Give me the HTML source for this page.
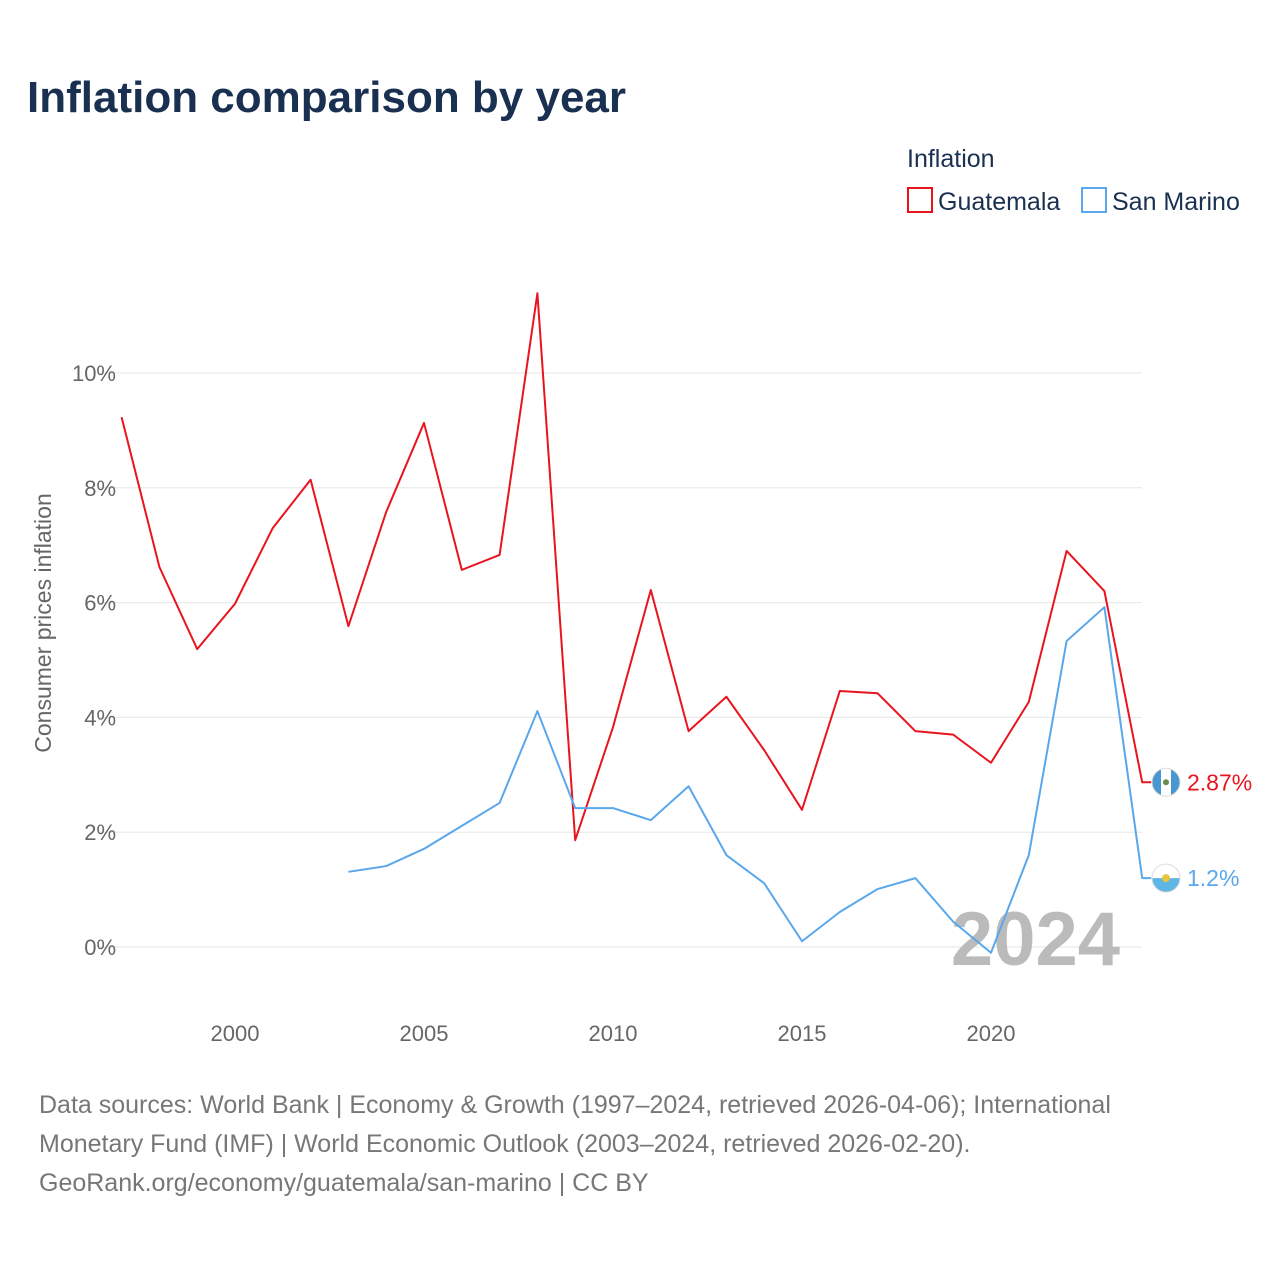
<!DOCTYPE html>
<html><head><meta charset="utf-8"><style>
body{margin:0;width:1280px;height:1280px;background:#fff;font-family:"Liberation Sans",sans-serif;overflow:hidden}
svg text{font-family:"Liberation Sans",sans-serif}
</style></head><body>
<svg id="chart" width="1280" height="1280" xmlns="http://www.w3.org/2000/svg">
<defs><clipPath id="fc1"><circle cx="1166" cy="782" r="14"/></clipPath><clipPath id="fc2"><circle cx="1166" cy="878" r="14"/></clipPath></defs>
<text x="27" y="112" font-size="44" font-weight="bold" fill="#1a3050">Inflation comparison by year</text>
<text x="907" y="167" font-size="25" fill="#1a3050">Inflation</text>
<g><rect x="908" y="188" width="24" height="24" fill="none" stroke="#e8141e" stroke-width="2"/><text x="938" y="210" font-size="25" fill="#1a3050">Guatemala</text></g>
<g><rect x="1082" y="188" width="24" height="24" fill="none" stroke="#5aa7ec" stroke-width="2"/><text x="1112" y="210" font-size="25" fill="#1a3050">San Marino</text></g>
<text transform="translate(51,623) rotate(-90)" text-anchor="middle" font-size="23" fill="#666">Consumer prices inflation</text>
<g id="grid"></g><g id="xt"></g>
<text x="1120" y="965" text-anchor="end" font-size="76" font-weight="bold" fill="#bbb">2024</text>
<g id="lines"></g>
<g font-size="25" fill="#777">
<text x="39" y="1113">Data sources: World Bank | Economy &amp; Growth (1997–2024, retrieved 2026-04-06); International</text>
<text x="39" y="1152">Monetary Fund (IMF) | World Economic Outlook (2003–2024, retrieved 2026-02-20).</text>
<text x="39" y="1191">GeoRank.org/economy/guatemala/san-marino | CC BY</text>
</g>
</svg>
<script>
const yTicks=[0,2,4,6,8,10];
const xTicks=[2000,2005,2010,2015,2020];
const gtYears=[1997,1998,1999,2000,2001,2002,2003,2004,2005,2006,2007,2008,2009,2010,2011,2012,2013,2014,2015,2016,2017,2018,2019,2020,2021,2022,2023,2024];
const gtValues=[9.23,6.62,5.19,5.98,7.30,8.14,5.59,7.58,9.13,6.57,6.83,11.39,1.86,3.83,6.22,3.76,4.36,3.43,2.39,4.46,4.42,3.76,3.70,3.21,4.27,6.90,6.20,2.87];
const smYears=[2003,2004,2005,2006,2007,2008,2009,2010,2011,2012,2013,2014,2015,2016,2017,2018,2019,2020,2021,2022,2023,2024];
const smValues=[1.31,1.41,1.71,2.11,2.51,4.11,2.42,2.42,2.21,2.80,1.60,1.11,0.10,0.61,1.01,1.20,0.44,-0.10,1.60,5.33,5.92,1.2];
const NS="http://www.w3.org/2000/svg";
const X=y=>121.6+(y-1997)*37.8, Y=v=>947-v*57.4;
function mk(t,a,p){const e=document.createElementNS(NS,t);for(const k in a)e.setAttribute(k,a[k]);p.appendChild(e);return e;}
const grid=document.getElementById('grid');
yTicks.forEach(v=>{
 const l=mk('line',{x1:100,x2:1142,y1:Y(v),y2:Y(v),stroke:'#e6e6e6'},grid);
 
 
 const t=mk('text',{x:116,y:Y(v)+8,'text-anchor':'end','font-size':22,fill:'#666'},grid);
 t.textContent=v+'%';
 
 
});
const xt=document.getElementById('xt');
xTicks.forEach(y=>{
 const t=mk('text',{x:X(y),y:1041,'text-anchor':'middle','font-size':22,fill:'#666'},xt);
 t.textContent=y;
 
 
});
const lines=document.getElementById('lines');
function series(yrs,vals,col,name,label,flag){
 let d=yrs.map((y,i)=>(i?'L':'M')+X(y)+','+Y(vals[i])).join(' ');
 const last=vals[vals.length-1];
 d+=' L'+(X(yrs[yrs.length-1])+9)+','+Y(last);
 const p=mk('path',{d:d,fill:'none',stroke:col,'stroke-width':2,'stroke-linejoin':'round'},lines);
 
 
 const cy=Y(last);
 const g=mk('g',{'clip-path':'url(#'+flag+')'},lines);
 
 
 if(flag==='fc1'){
  mk('rect',{x:1150,y:cy-15,width:32,height:30,fill:'#4997d0'},g);
  mk('rect',{x:1161,y:cy-15,width:10,height:30,fill:'#fff'},g);
  mk('circle',{cx:1166,cy:cy,r:3,fill:'#6a8a4a'},g);
 } else {
  mk('rect',{x:1150,y:cy-15,width:32,height:15,fill:'#fff'},g);
  mk('rect',{x:1150,y:cy,width:32,height:15,fill:'#5eb6e4'},g);
  mk('circle',{cx:1166,cy:cy,r:4,fill:'#e8c440'},g);
 }
 mk('circle',{cx:1166,cy:cy,r:14,fill:'none',stroke:'#ddd','stroke-width':1},lines);
 const t=mk('text',{x:1187,y:cy+8,'font-size':23,fill:col},lines);
 t.textContent=label;
 
 
}
series(gtYears,gtValues,'#e8141e','guatemala',gtValues[gtValues.length-1]+'%','fc1');
series(smYears,smValues,'#5aa7ec','san-marino',smValues[smValues.length-1]+'%','fc2');
</script>
</body></html>
